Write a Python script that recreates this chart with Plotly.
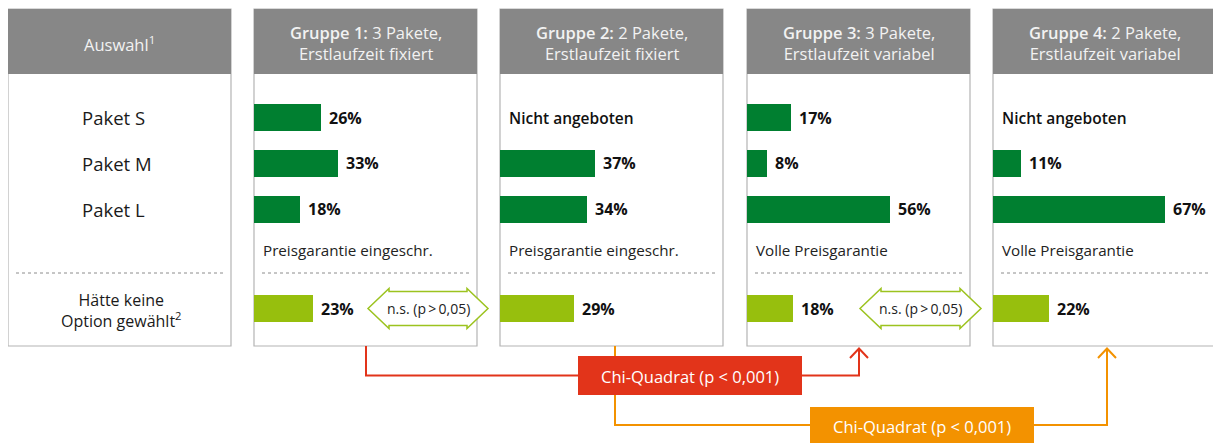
import plotly.graph_objects as go

# ---------------- data ----------------
row_labels = ["Paket S", "Paket M", "Paket L"]
group_titles = ["Gruppe 1:", "Gruppe 2:", "Gruppe 3:", "Gruppe 4:"]
group_packs = ["3 Pakete,", "2 Pakete,", "3 Pakete,", "2 Pakete,"]
group_terms = ["Erstlaufzeit fixiert", "Erstlaufzeit fixiert",
               "Erstlaufzeit variabel", "Erstlaufzeit variabel"]
paket_s = [26, None, 17, None]
paket_m = [33, 37, 8, 11]
paket_l = [18, 34, 56, 67]
keine_option = [23, 29, 18, 22]
guarantee = ["Preisgarantie eingeschr.", "Preisgarantie eingeschr.",
             "Volle Preisgarantie", "Volle Preisgarantie"]
not_offered = "Nicht angeboten"
ns_label = "n.s. (p\u2009>\u20090,05)"
chi_label = "Chi-Quadrat (p < 0,001)"
first_col_title = "Auswahl<sup>1</sup>"
none_label = "Hätte keine<br>Option gewählt<sup>2</sup>"

# ---------------- layout constants ----------------
W, H = 1221, 443
OFF = 8  # page body margin of the html page
FW, FH = W - OFF, H - OFF
FONT = "Open Sans"
panel_left = [8, 254, 500, 747, 993]
panel_w = 223
top, head_bot, bot = 9, 74, 346
row_y = [117.5, 163, 209]
none_y = 308.5
bar_h = 27
px_per_pct = 2.56
dark_green = "#007f30"
light_green = "#97bf0d"
red = "#e2341a"
orange = "#f39200"
header_gray = "#878787"
border_gray = "#b4b4b4"

fig = go.Figure()
shapes, annots = [], []

# panels
for i, x0 in enumerate(panel_left):
    shapes.append(dict(type="rect", xref="x", yref="y", x0=x0, x1=x0 + panel_w,
                       y0=top, y1=bot, fillcolor="white",
                       line=dict(color=border_gray, width=1.2), layer="below"))
    shapes.append(dict(type="rect", xref="x", yref="y", x0=x0, x1=x0 + panel_w,
                       y0=top, y1=head_bot, fillcolor=header_gray,
                       line=dict(width=0), layer="below"))
    shapes.append(dict(type="line", xref="x", yref="y", x0=x0 + 8, x1=x0 + panel_w - 8,
                       y0=273, y1=273, line=dict(color="#8c8c8c", width=1, dash="dot"),
                       layer="below"))

# first column texts
annots.append(dict(x=panel_left[0] + panel_w / 2, y=44, xref="x", yref="y",
                   text=first_col_title, showarrow=False,
                   font=dict(family=FONT, size=16.5, color="#f2f2f2")))
for lab, yy in zip(row_labels, row_y):
    annots.append(dict(x=80, y=yy, xref="x", yref="y", text=lab, showarrow=False,
                       xanchor="left", font=dict(family=FONT, size=18.5, color="#1a1a1a")))
annots.append(dict(x=panel_left[0] + panel_w / 2 + 2, y=310, xref="x", yref="y",
                   text=none_label, showarrow=False,
                   font=dict(family=FONT, size=16, color="#1a1a1a")))

# group panels
for g in range(4):
    x0 = panel_left[g + 1]
    ax = "x%d" % (g + 2)
    fig.layout["xaxis%d" % (g + 2)] = dict(
        domain=[(x0 - OFF) / FW, (x0 - OFF + panel_w) / FW],
        range=[0, panel_w / px_per_pct],
        anchor="y", visible=False, fixedrange=True)
    vals = [paket_s[g], paket_m[g], paket_l[g]]
    ys = [y for v, y in zip(vals, row_y) if v is not None]
    vs = [v for v in vals if v is not None]
    fig.add_trace(go.Bar(x=vs, y=ys, orientation="h", xaxis=ax, yaxis="y",
                         width=bar_h, marker=dict(color=dark_green, line=dict(width=0)),
                         hoverinfo="skip", showlegend=False))
    fig.add_trace(go.Bar(x=[keine_option[g]], y=[none_y], orientation="h", xaxis=ax,
                         yaxis="y", width=bar_h,
                         marker=dict(color=light_green, line=dict(width=0)),
                         hoverinfo="skip", showlegend=False))
    for v, yy in zip(vals, row_y):
        if v is None:
            annots.append(dict(x=x0 + 7, y=yy, xref="x", yref="y", text=not_offered,
                               showarrow=False, xanchor="left",
                               font=dict(family=FONT, size=15.5, color="#111",
                                         weight=600)))
        else:
            annots.append(dict(x=v, y=yy, xref=ax, yref="y", text="%d%%" % v,
                               showarrow=False, xanchor="left", xshift=6,
                               font=dict(family=FONT, size=16, color="#111",
                                         weight="bold")))
    annots.append(dict(x=keine_option[g], y=none_y, xref=ax, yref="y",
                       text="%d%%" % keine_option[g], showarrow=False, xanchor="left",
                       xshift=6, font=dict(family=FONT, size=16, color="#111",
                                           weight="bold")))
    annots.append(dict(x=x0 + 7, y=250, xref="x", yref="y", text=guarantee[g],
                       showarrow=False, xanchor="left",
                       font=dict(family=FONT, size=15.2, color="#222")))
    annots.append(dict(x=x0 + panel_w / 2, y=43, xref="x", yref="y",
                       text="<span style='font-weight:600'>%s</span> %s<br>%s"
                            % (group_titles[g], group_packs[g], group_terms[g]),
                       showarrow=False,
                       font=dict(family=FONT, size=16.5, color="#f2f2f2")))

# double arrows (n.s.)
def double_arrow(xa, xb, yc, h=20, s=17, L=21):
    pts = [(xa, yc), (xa + L, yc - h), (xa + L, yc - s), (xb - L, yc - s),
           (xb - L, yc - h), (xb, yc), (xb - L, yc + h), (xb - L, yc + s),
           (xa + L, yc + s), (xa + L, yc + h)]
    return "M " + " L ".join("%g,%g" % p for p in pts) + " Z"

for xa, xb in [(368, 488), (860, 981)]:
    shapes.append(dict(type="path", xref="x", yref="y", path=double_arrow(xa, xb, 308.5),
                       fillcolor="white", line=dict(color="#9cc31f", width=1.5),
                       layer="above"))
    annots.append(dict(x=(xa + xb) / 2, y=308, xref="x", yref="y", text=ns_label,
                       showarrow=False, font=dict(family=FONT, size=14, color="#222")))

# connectors
def chevron(x, y, c):
    return dict(type="path", xref="x", yref="y",
                path="M %g,%g L %g,%g L %g,%g" % (x - 9, y + 11, x, y + 1.5, x + 9, y + 11),
                line=dict(color=c, width=2), layer="above")

shapes.append(dict(type="path", xref="x", yref="y",
                   path="M 615,346 L 615,425 L 1107,425 L 1107,349",
                   line=dict(color=orange, width=2), layer="above"))
shapes.append(chevron(1107, 347, orange))
shapes.append(dict(type="path", xref="x", yref="y",
                   path="M 366,346 L 366,375.5 L 859,375.5 L 859,349",
                   line=dict(color=red, width=2), layer="above"))
shapes.append(chevron(859, 347, red))
shapes.append(dict(type="rect", xref="x", yref="y", x0=578, x1=802, y0=356, y1=395,
                   fillcolor=red, line=dict(width=0), layer="above"))
shapes.append(dict(type="rect", xref="x", yref="y", x0=810, x1=1034, y0=407, y1=445,
                   fillcolor=orange, line=dict(width=0), layer="above"))
annots.append(dict(x=690, y=376, xref="x", yref="y", text=chi_label, showarrow=False,
                   font=dict(family=FONT, size=16.5, color="white")))
annots.append(dict(x=922, y=426, xref="x", yref="y", text=chi_label, showarrow=False,
                   font=dict(family=FONT, size=16.5, color="white")))

fig.update_layout(
    width=FW, height=FH, margin=dict(l=0, r=0, t=0, b=0),
    paper_bgcolor="white", plot_bgcolor="rgba(0,0,0,0)",
    xaxis=dict(range=[OFF, W], domain=[0, 1], visible=False, fixedrange=True),
    yaxis=dict(range=[H, OFF], domain=[0, 1], visible=False, fixedrange=True),
    shapes=shapes, annotations=annots, barmode="overlay", bargap=0,
)
fig.write_html("out.html")
